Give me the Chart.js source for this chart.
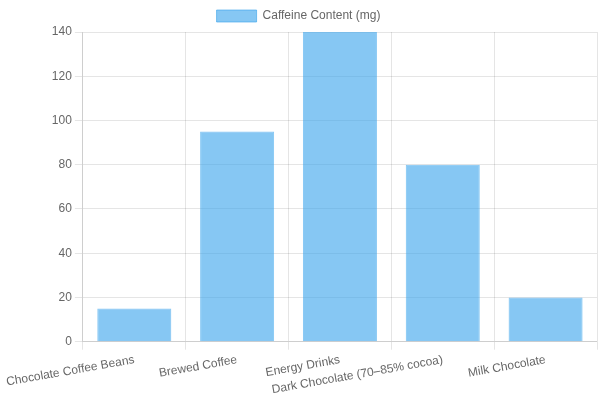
<!DOCTYPE html>
<html>
<head>
<meta charset="utf-8">
<script src="https://cdn.jsdelivr.net/npm/chart.js@4"></script>
<style>
  html, body { margin: 0; padding: 0; background: #fff; }
  #wrap { width: 600px; height: 400px; }
</style>
</head>
<body>
<div id="wrap"><canvas id="ch"></canvas></div>
<script>
const categories = ['Chocolate Coffee Beans', 'Brewed Coffee', 'Energy Drinks', 'Dark Chocolate (70–85% cocoa)', 'Milk Chocolate'];
const caffeine = [15, 95, 140, 80, 20];

new Chart(document.getElementById('ch'), {
  type: 'bar',
  data: {
    labels: categories,
    datasets: [{
      label: 'Caffeine Content (mg)',
      data: caffeine,
      backgroundColor: 'rgba(54,162,235,0.6)',
      borderColor: 'rgba(54,162,235,0.6)',
      borderWidth: 1,
      categoryPercentage: 0.8,
      barPercentage: 0.9
    }]
  },
  options: {
    responsive: true,
    maintainAspectRatio: false,
    animation: false,
    layout: { padding: { right: 3 } },
    plugins: { legend: { position: 'top' } },
    scales: {
      x: { ticks: { maxRotation: 10, minRotation: 10 } },
      y: { beginAtZero: true, max: 140, ticks: { stepSize: 20 } }
    }
  }
});
</script>
</body>
</html>
